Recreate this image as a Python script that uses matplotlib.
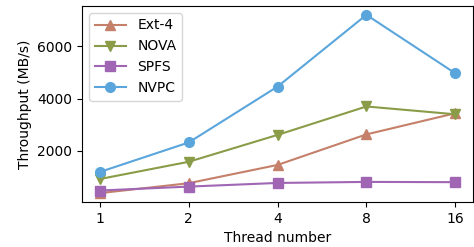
import matplotlib
matplotlib.use("Agg")
import matplotlib.pyplot as plt
import numpy as np

threads = ["1", "2", "4", "8", "16"]
ext4 = [380, 760, 1460, 2630, 3440]
nova = [920, 1580, 2610, 3700, 3400]
spfs = [480, 630, 770, 810, 800]
nvpc = [1190, 2320, 4460, 7210, 4970]

series = [
    ("Ext-4", ext4, "#c5806a", "^"),
    ("NOVA", nova, "#8a9c48", "v"),
    ("SPFS", spfs, "#a066b4", "s"),
    ("NVPC", nvpc, "#5aa6dc", "o"),
]

fig = plt.figure(figsize=(4.74, 2.47), dpi=100)
ax = fig.add_axes([0.173, 0.182, 0.825, 0.794])

x = np.arange(len(threads))
for label, vals, color, marker in series:
    ax.plot(x, vals, color=color, marker=marker, markersize=7, lw=1.5, label=label)

ax.set_xticks(x)
ax.set_xticklabels(threads)
ax.set_yticks([2000, 4000, 6000])
ax.set_xlabel("Thread number", fontsize=10)
ax.set_ylabel("Throughput (MB/s)", fontsize=10)
ax.tick_params(labelsize=10)
ax.legend(loc="upper left", fontsize=10, handlelength=2.3)

fig.savefig("out.png", dpi=100)
